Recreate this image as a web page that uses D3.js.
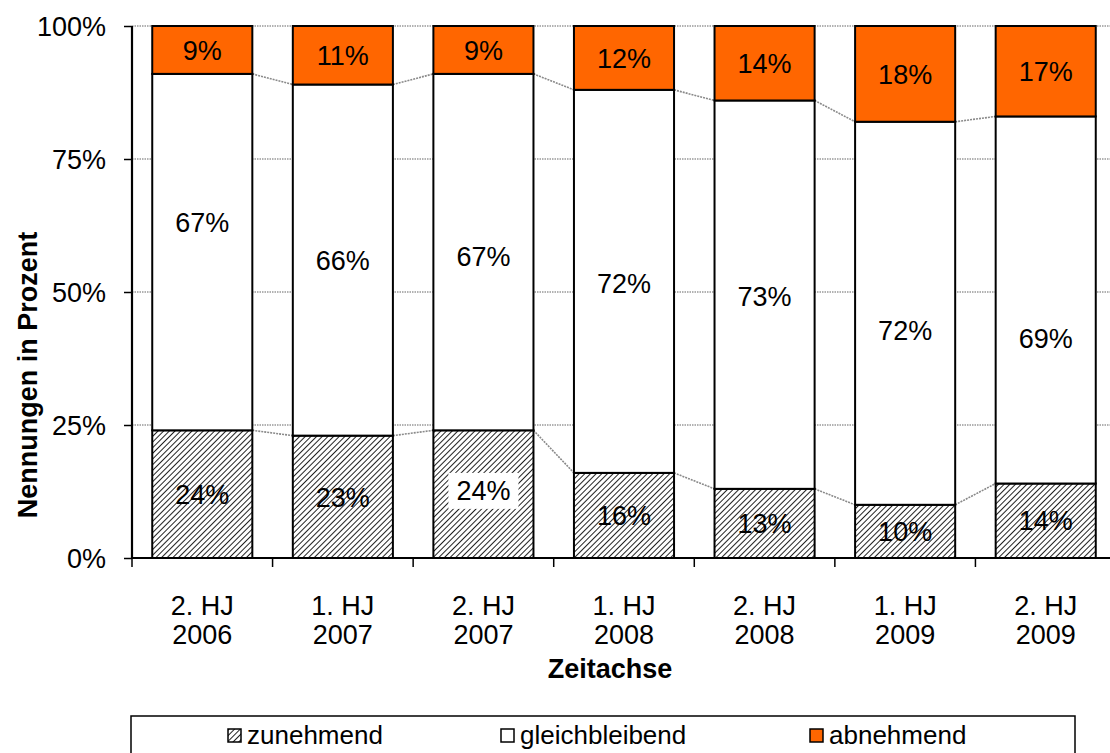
<!DOCTYPE html>
<html>
<head>
<meta charset="utf-8">
<script src="https://cdn.jsdelivr.net/npm/d3@7"></script>
<style>
  body { margin: 0; background: #fff; }
  svg text { font-family: "Liberation Sans", Arial, sans-serif; fill: #000; }
</style>
</head>
<body>
<div id="chart"></div>
<script>
// values (percent)
const categories = [["2. HJ", "2006"], ["1. HJ", "2007"], ["2. HJ", "2007"], ["1. HJ", "2008"],
                    ["2. HJ", "2008"], ["1. HJ", "2009"], ["2. HJ", "2009"]];
const zunehmend = [24, 23, 24, 16, 13, 10, 14];
const gleichbleibend = [67, 66, 67, 72, 73, 72, 69];
const abnehmend = [9, 11, 9, 12, 14, 18, 17];
const seriesNames = ["zunehmend", "gleichbleibend", "abnehmend"];
const yTicks = [0, 25, 50, 75, 100];

// manual label shifts (px) for the middle series, as placed in the original
const midLabelNudge = [-30, 0, 4, 2, 2, 17, 38];

const W = 1110, H = 753;
const margin = {top: 26, left: 132, bottom: 195};
const plotRight = 1116;

const svg = d3.select("#chart").append("svg")
    .attr("width", W).attr("height", H);

const defs = svg.append("defs");
const hatch = defs.append("pattern")
    .attr("id", "hatch")
    .attr("patternUnits", "userSpaceOnUse")
    .attr("width", 4).attr("height", 4)
    .attr("patternTransform", "rotate(45)");
hatch.append("rect").attr("width", 4).attr("height", 4).attr("fill", "#fff");
hatch.append("line")
    .attr("x1", 0).attr("y1", 0).attr("x2", 0).attr("y2", 4)
    .attr("stroke", "#222").attr("stroke-width", 2);

const fills = {zunehmend: "url(#hatch)", gleichbleibend: "#fff", abnehmend: "#ff6600"};

const x = d3.scaleBand()
    .domain(d3.range(categories.length))
    .range([margin.left, plotRight])
    .paddingInner(0.288)
    .paddingOuter(0.144);

const y = d3.scaleLinear()
    .domain([0, 100])
    .range([H - margin.bottom, margin.top]);

// stacked data
const rows = categories.map((c, i) => ({
    i, zunehmend: zunehmend[i], gleichbleibend: gleichbleibend[i], abnehmend: abnehmend[i]
}));
const stack = d3.stack().keys(seriesNames)(rows);

// gridlines
svg.append("g")
  .selectAll("line")
  .data(yTicks.filter(t => t > 0))
  .join("line")
    .attr("x1", margin.left).attr("x2", plotRight)
    .attr("y1", d => y(d)).attr("y2", d => y(d))
    .attr("stroke", "#999")
    .attr("stroke-width", 1.5)
    .attr("stroke-dasharray", "1.5,1");

// series lines between the bars
const step = x.step();
[stack[0], stack[1]].forEach(s => {
    const pts = s.slice(0, -1).map((d, i) => [
        [x(i) + x.bandwidth(), y(d[1])],
        [x(i + 1), y(s[i + 1][1])]
    ]);
    svg.append("g")
      .selectAll("line")
      .data(pts)
      .join("line")
        .attr("x1", d => d[0][0]).attr("y1", d => d[0][1])
        .attr("x2", d => d[1][0]).attr("y2", d => d[1][1])
        .attr("stroke", "#8a8a8a")
        .attr("stroke-width", 1.6)
        .attr("stroke-dasharray", "2,1");
});

// bars
svg.append("g")
  .selectAll("g")
  .data(stack)
  .join("g")
    .attr("fill", d => fills[d.key])
  .selectAll("rect")
  .data(d => d)
  .join("rect")
    .attr("x", (d, i) => x(i))
    .attr("width", x.bandwidth())
    .attr("y", d => y(d[1]))
    .attr("height", d => y(d[0]) - y(d[1]))
    .attr("stroke", "#000")
    .attr("stroke-width", 2);

// data labels
stack.forEach(s => {
    const g = svg.append("g");
    s.forEach((d, i) => {
        const v = d[1] - d[0];
        let cy = (y(d[0]) + y(d[1])) / 2;
        if (s.key === "gleichbleibend") cy += midLabelNudge[i];
        if (s.key === "zunehmend" && i === 2) cy -= 4;
        const cx = x(i) + x.bandwidth() / 2;
        const t = g.append("text")
            .attr("x", cx).attr("y", cy)
            .attr("dy", "0.36em")
            .attr("text-anchor", "middle")
            .style("font-size", "27px")
            .text(v + "%");
        if (s.key === "zunehmend" && i === 2) {
            const bb = t.node().getBBox();
            g.insert("rect", "text")
                .attr("x", bb.x - 8).attr("y", bb.y - 3)
                .attr("width", bb.width + 16).attr("height", bb.height + 6)
                .attr("fill", "#fff");
        }
    });
});

// y axis
const yAxis = svg.append("g")
    .attr("transform", `translate(${margin.left},0)`)
    .call(d3.axisLeft(y).tickValues(yTicks).tickFormat(d => d + "%").tickSize(8).tickPadding(18));
yAxis.select(".domain").attr("stroke", "#000").attr("stroke-width", 2.2)
    .attr("d", `M0,${y(0)}V${y(100)}`);
yAxis.selectAll(".tick line").attr("stroke", "#000").attr("stroke-width", 1.5);
yAxis.selectAll(".tick text")
    .style("font-size", "27px")
    .style("font-family", "'Liberation Sans', Arial, sans-serif")
    .attr("dy", "0.36em");

// x axis
const xAxis = svg.append("g")
    .attr("transform", `translate(0,${y(0)})`);
xAxis.append("line")
    .attr("x1", margin.left).attr("x2", plotRight)
    .attr("stroke", "#000").attr("stroke-width", 2.2);
xAxis.selectAll(".xtick")
  .data(d3.range(categories.length + 1))
  .join("line")
    .attr("x1", i => margin.left + i * step).attr("x2", i => margin.left + i * step)
    .attr("y1", 0).attr("y2", 9)
    .attr("stroke", "#000").attr("stroke-width", 1.5);
xAxis.selectAll(".xlabel")
  .data(categories)
  .join("text")
    .attr("text-anchor", "middle")
    .attr("transform", (d, i) => `translate(${x(i) + x.bandwidth() / 2},0)`)
    .style("font-size", "27px")
    .selectAll("tspan")
    .data(d => d)
    .join("tspan")
      .attr("x", 0)
      .attr("y", (d, j) => 57 + j * 29)
      .text(d => d);

// axis titles
svg.append("text")
    .attr("x", 610).attr("y", 678)
    .attr("text-anchor", "middle")
    .style("font-size", "27px").style("font-weight", "bold")
    .text("Zeitachse");

svg.append("text")
    .attr("transform", "translate(37,375) rotate(-90)")
    .attr("text-anchor", "middle")
    .style("font-size", "27px").style("font-weight", "bold")
    .text("Nennungen in Prozent");

// legend
const legend = svg.append("g");
legend.append("rect")
    .attr("x", 131).attr("y", 716)
    .attr("width", 944).attr("height", 60)
    .attr("fill", "#fff").attr("stroke", "#000").attr("stroke-width", 1.5);
const legendX = [228, 501, 810];
const items = legend.selectAll("g.item")
  .data(seriesNames)
  .join("g")
    .attr("transform", (d, i) => `translate(${legendX[i]},735)`);
items.append("rect")
    .attr("x", 0).attr("y", -6)
    .attr("width", 13).attr("height", 13)
    .attr("fill", d => fills[d])
    .attr("stroke", "#000").attr("stroke-width", 1.5);
items.append("text")
    .attr("x", 19).attr("dy", "0.36em")
    .style("font-size", "26px")
    .text(d => d);
</script>
</body>
</html>
